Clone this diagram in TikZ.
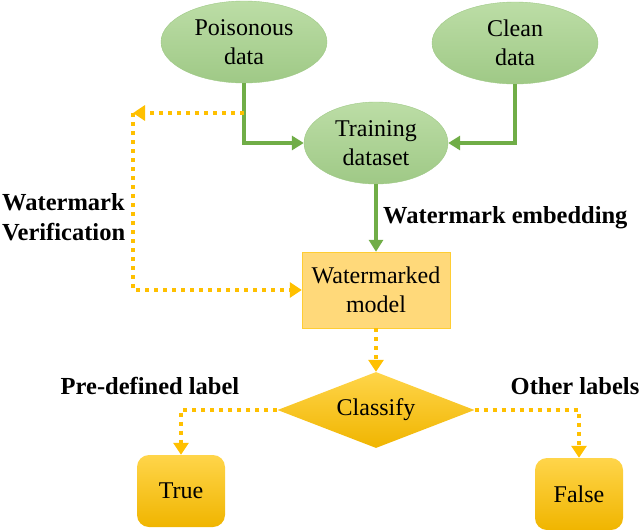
\documentclass[tikz,border=0pt]{standalone}
\usepackage{fontspec}
\setmainfont{Liberation Serif}
\newfontfamily\timesfont{Liberation Serif}
\usetikzlibrary{arrows.meta,shapes.geometric}

\definecolor{leafgreen}{HTML}{70AD47}
\definecolor{ellipsetop}{HTML}{BCDDA6}
\definecolor{ellipsebot}{HTML}{9FC986}
\definecolor{amber}{HTML}{FFC000}
\definecolor{paleamber}{HTML}{FFD97A}
\definecolor{lightamber}{HTML}{FFD54A}
\definecolor{deepamber}{HTML}{F0B500}

\begin{document}
\begin{tikzpicture}[x=1pt,y=-1pt,
	datanode/.style={ellipse, draw=ellipsebot, thin, top color=ellipsetop, bottom color=ellipsebot,
		minimum width=166pt, minimum height=82pt, inner sep=0pt, align=center,
		font=\timesfont\fontsize{24}{29}\selectfont},
	modelnode/.style={rectangle, draw=amber!80, thin, fill=paleamber, minimum width=148pt,
		minimum height=76pt, align=center, font=\timesfont\fontsize{24}{29}\selectfont},
	decidenode/.style={diamond, top color=lightamber, middle color=amber, bottom color=deepamber,
		draw=none, minimum width=197pt, minimum height=76pt, shape aspect=2.5, inner sep=0pt,
		font=\timesfont\fontsize{24}{29}\selectfont},
	resultnode/.style={rectangle, rounded corners=12pt, top color=lightamber, middle color=amber,
		bottom color=deepamber, draw=none, minimum width=88pt, minimum height=72pt,
		font=\timesfont\fontsize{24}{29}\selectfont},
	boldlabel/.style={font=\timesfont\bfseries\fontsize{24.5}{30}\selectfont, align=left, inner sep=0pt},
	greenarrow/.style={draw=leafgreen, line width=4pt, -{Triangle[width=14pt,length=12pt]}},
	dotarrow/.style={draw=amber, line width=4pt, dash pattern=on 4pt off 5pt,
		-{Triangle[width=15pt,length=12pt]}},
]

% frame %{{{2

	\useasboundingbox (0,0) rectangle (640,530);

% nodes %{{{2

	\node[datanode] (poison) at (244,42) {Poisonous\\data};
	\node[datanode] (clean) at (515,43) {Clean\\data};
	\node[datanode, minimum width=144pt] (train) at (376,143) {Training\\dataset};
	\node[modelnode] (wmodel) at (376,290) {Watermarked\\model};
	\node[decidenode] (classify) at (376,410) {Classify};
	\node[resultnode] (truebox) at (181,491) {True};
	\node[resultnode] (falsebox) at (579,494) {False};

% coordinates %{{{2

	\coordinate (tap) at (244,113);
	\coordinate (corner) at (133,113);

% embedding %{{{2

	\draw[greenarrow] (poison.south) |- (train.west);
	\draw[greenarrow] (clean.south) |- (train.east);
	\draw[greenarrow] (train) -- (wmodel);

% verification %{{{2

	\draw[dotarrow] (tap) -- (corner);
	\draw[dotarrow] (corner) |- (wmodel.west);
	\draw[dotarrow] (wmodel) -- (classify);
	\draw[dotarrow] (classify.west) -| (truebox.north);
	\draw[dotarrow] (classify.east) -| (falsebox.north);

% labels %{{{2

	\node[boldlabel, anchor=west] (embedlabel) at (383,218) {Watermark embedding};
	\node[boldlabel, anchor=west] (verilabel) at (2,217) {Watermark\\Verification};
	\node[boldlabel] (predlabel) at (150,386) {Pre-defined label};
	\node[boldlabel] (otherlabel) at (575,386) {Other labels};

% closing %{{{2

\end{tikzpicture}
\end{document}
